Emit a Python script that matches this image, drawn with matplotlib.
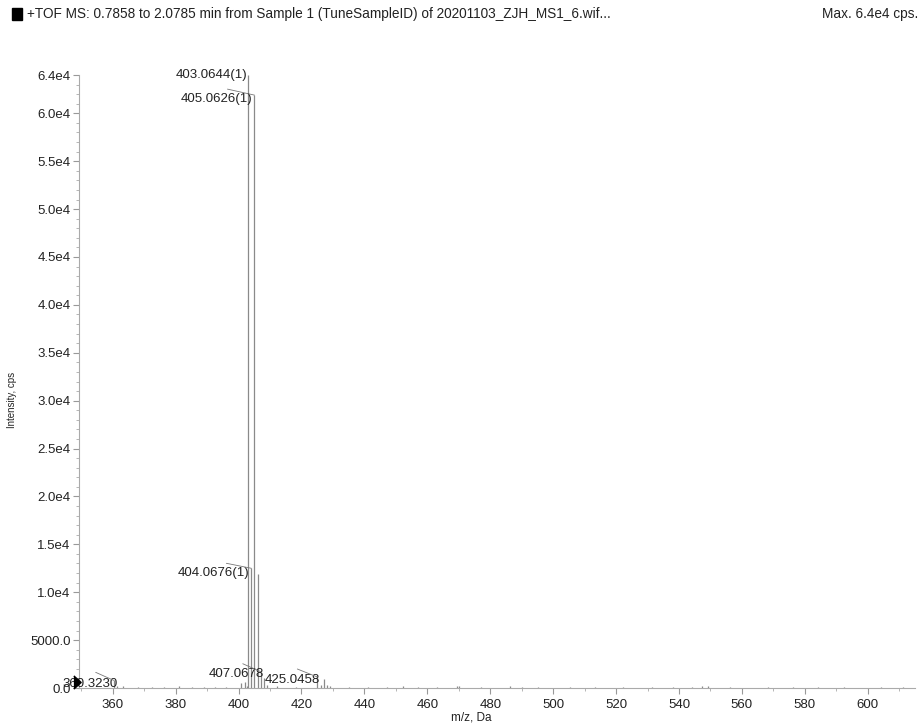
import numpy as np
import matplotlib.pyplot as plt
from matplotlib.ticker import MultipleLocator, FixedLocator

plt.rcParams['font.family'] = ['Liberation Sans', 'DejaVu Sans']

# centroided peaks: m/z and intensity (cps)
peak_mz = [360.3230, 361.3, 363.2, 368.1, 372.4, 376.2, 381.0, 385.3, 389.1, 392.6, 396.0,
           400.9, 401.9, 402.6, 403.0644, 404.0676, 405.0626, 406.0660, 407.0678, 408.07, 409.1,
           412.3, 418.2, 425.0458, 426.05, 427.0430, 428.04, 429.1, 435.2, 441.3, 447.1, 452.2,
           457.0, 463.2, 469.3, 470.1, 477.2, 486.3, 490.2, 495.1, 505.3, 513.2, 522.1, 531.3,
           538.2, 544.1, 547.3, 549.2, 556.1, 568.3, 576.2, 584.1, 592.3, 604.2, 611.1]
peak_int = [800, 250, 180, 120, 150, 110, 160, 130, 120, 150, 140,
            550, 600, 250, 64000, 12500, 61900, 11900, 1700, 1000, 350,
            160, 140, 1150, 350, 900, 300, 200, 130, 140, 150, 170,
            120, 140, 180, 220, 130, 160, 120, 140, 150, 130, 140, 120,
            130, 110, 160, 200, 120, 140, 110, 130, 120, 140, 110]

# labelled peaks: text, m/z, height, text offset (px), leader start offset (px)
labels = [
    ('403.0644(1)', 403.0644, 64000, (-1, 0), None),
    ('405.0626(1)', 405.0626, 61900, (-2, -4), (-27, 6)),
    ('404.0676(1)', 404.0676, 12500, (-2, -5), (-25, 5)),
    ('407.0678', 407.0678, 1700, (3, -2), (-18, 8)),
    ('425.0458', 425.0458, 1150, (3, -3), (-20, 8)),
    ('360.3230', 360.3230, 800, (4, -4), (-18, 8)),
]

xticks = [360, 380, 400, 420, 440, 460, 480, 500, 520, 540, 560, 580, 600]
yticks = [0, 5000, 10000, 15000, 20000, 25000, 30000, 35000, 40000, 45000, 50000, 55000, 60000, 64000]
ytick_labels = ['0.0', '5000.0', '1.0e4', '1.5e4', '2.0e4', '2.5e4', '3.0e4', '3.5e4',
                '4.0e4', '4.5e4', '5.0e4', '5.5e4', '6.0e4', '6.4e4']

grey = '#8a8a8a'
txt = '#222222'

fig = plt.figure(figsize=(9.21, 7.24), dpi=100)
ax = fig.add_axes([0.0858, 0.0497, 0.9077, 0.8467])

ax.vlines(peak_mz, 0, peak_int, color=grey, lw=0.9)

ax.set_xlim(349.3, 615)
ax.set_ylim(0, 64000)

for s in ['top', 'right']:
    ax.spines[s].set_visible(False)
for s in ['left', 'bottom']:
    ax.spines[s].set_color('#aaaaaa')
    ax.spines[s].set_linewidth(0.8)

ax.xaxis.set_major_locator(FixedLocator(xticks))
ax.xaxis.set_minor_locator(MultipleLocator(10))
ax.yaxis.set_major_locator(FixedLocator(yticks))
ax.yaxis.set_minor_locator(MultipleLocator(1000))
ax.set_yticklabels(ytick_labels)
ax.tick_params(which='major', length=4, width=0.8, color='#999999', labelsize=9.5, labelcolor=txt)
ax.tick_params(axis='x', which='major', pad=4)
ax.tick_params(axis='y', which='major', pad=2)
ax.tick_params(which='minor', length=2, width=0.6, color='#aaaaaa')

for text, mz, h, toff, loff in labels:
    ax.annotate(text, xy=(mz, h), xytext=toff, textcoords='offset pixels',
                ha='right', va='center', fontsize=9.5, color=txt)
    if loff is not None:
        ax.annotate('', xy=(mz, h), xytext=loff, textcoords='offset pixels',
                    arrowprops=dict(arrowstyle='-', color='#777777', lw=0.6, shrinkA=0, shrinkB=0))

# threshold marker on the intensity axis
tri = [(-0.55, -1), (0.55, 0), (-0.55, 1)]
ax.plot([348.5], [626], marker=tri, color='black', markersize=9.5, clip_on=False, zorder=5)

ax.set_xlabel('m/z, Da', fontsize=8.5, color=txt)
ax.xaxis.set_label_coords(0.469, -0.0375)
ax.set_ylabel('Intensity, cps', fontsize=7, color=txt)
ax.yaxis.set_label_coords(-0.074, 0.47)

# header line
fig.patches.append(plt.Rectangle((12 / 921, 1 - 20 / 724), 10 / 921, 12 / 724,
                                 transform=fig.transFigure, color='black'))
fig.text(27 / 921, 1 - 14 / 724,
         '+TOF MS: 0.7858 to 2.0785 min from Sample 1 (TuneSampleID) of 20201103_ZJH_MS1_6.wif...',
         fontsize=9.8, va='center', ha='left', color=txt)
fig.text(918 / 921, 1 - 14 / 724, 'Max. 6.4e4 cps.', fontsize=9.8, va='center', ha='right', color=txt)

fig.savefig('out.png', dpi=100, facecolor='white')
